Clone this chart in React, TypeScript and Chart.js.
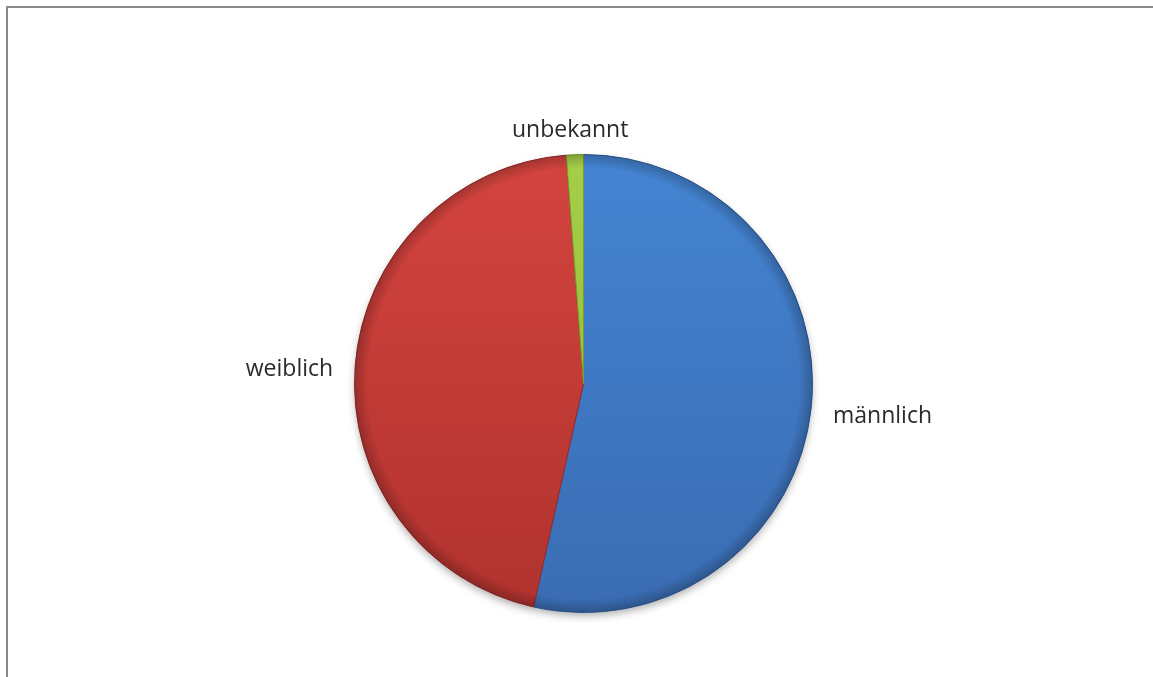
import React, { useEffect, useRef } from "react";
import { Chart, registerables } from "chart.js";

Chart.register(...registerables);

const categories = ["männlich", "weiblich", "unbekannt"];
const values = [53.5, 45.3, 1.2];
const topColors = ["#4484d2", "#d4443f", "#a6cf48"];
const bottomColors = ["#3a6cb2", "#b0322e", "#8ab236"];
const edgeColors = ["#2f5c99", "#942a27", "#789e2c"];

const labelPlugin = {
  id: "outsideLabels",
  afterDatasetsDraw(chart: any) {
    const ctx = chart.ctx;
    const meta = chart.getDatasetMeta(0);
    const first = meta.data[0];
    if (first) {
      const p0 = first.getProps(["x", "y", "outerRadius"], true);
      // bevel shading along the rim
      ctx.save();
      const g = ctx.createRadialGradient(p0.x, p0.y, p0.outerRadius * 0.94, p0.x, p0.y, p0.outerRadius);
      g.addColorStop(0, "rgba(0,0,0,0)");
      g.addColorStop(1, "rgba(0,0,0,0.22)");
      ctx.fillStyle = g;
      ctx.beginPath();
      ctx.arc(p0.x, p0.y, p0.outerRadius, 0, Math.PI * 2);
      ctx.fill();
      ctx.restore();
    }
    ctx.save();
    ctx.font = "23px 'Open Sans', sans-serif";
    ctx.fillStyle = "#2a2a2a";
    ctx.textBaseline = "middle";
    meta.data.forEach((arc: any, i: number) => {
      const p = arc.getProps(["x", "y", "startAngle", "endAngle", "outerRadius"], true);
      const mid = (p.startAngle + p.endAngle) / 2;
      const r = p.outerRadius + 18;
      const c = Math.cos(mid);
      const ax = p.x + c * r;
      const ay = p.y + Math.sin(mid) * r;
      const up = -Math.sin(mid);
      ctx.textAlign = c > 0.3 ? "left" : c < -0.3 ? "right" : "center";
      ctx.fillText(categories[i], c > 0.3 ? ax + 4 : c < -0.3 ? ax - 4 : ax - 4, ay + 5 - up * 11);
    });
    ctx.restore();
  },
};

const framePlugin = {
  id: "frame",
  beforeDraw(chart: any) {
    const ctx = chart.ctx;
    ctx.save();
    ctx.fillStyle = "#ffffff";
    ctx.fillRect(0, 0, chart.width, chart.height);
    ctx.strokeStyle = "#888888";
    ctx.lineWidth = 2;
    ctx.beginPath();
    ctx.moveTo(7, chart.height);
    ctx.lineTo(7, 7);
    ctx.lineTo(chart.width, 7);
    ctx.stroke();
    ctx.restore();
  },
  beforeDatasetsDraw(chart: any) {
    const meta = chart.getDatasetMeta(0);
    const first = meta.data[0];
    if (!first) return;
    const p = first.getProps(["x", "y", "outerRadius"], true);
    const ctx = chart.ctx;
    ctx.save();
    ctx.shadowColor = "rgba(0,0,0,0.35)";
    ctx.shadowBlur = 8;
    ctx.shadowOffsetY = 4;
    ctx.fillStyle = "#777";
    ctx.beginPath();
    ctx.arc(p.x, p.y, p.outerRadius - 1, 0, Math.PI * 2);
    ctx.fill();
    ctx.restore();
  },
};

function makeGradient(context: any, i: number) {
  const chart = context.chart;
  const area = chart.chartArea;
  if (!area) return topColors[i];
  const g = chart.ctx.createLinearGradient(0, area.top, 0, area.bottom);
  g.addColorStop(0, topColors[i]);
  g.addColorStop(1, bottomColors[i]);
  return g;
}

export default function App() {
  const ref = useRef<HTMLCanvasElement | null>(null);
  useEffect(() => {
    if (!ref.current) return;
    const chart = new Chart(ref.current, {
      type: "pie",
      data: {
        labels: categories,
        datasets: [
          {
            data: values,
            backgroundColor: (c: any) => makeGradient(c, c.dataIndex),
            borderColor: edgeColors,
            borderWidth: 1,
          },
        ],
      },
      options: {
        animation: false,
        responsive: false,
        maintainAspectRatio: false,
        layout: { padding: { top: 154, bottom: 64, left: 354, right: 340 } },
        plugins: { legend: { display: false }, tooltip: { enabled: false } },
      },
      plugins: [framePlugin, labelPlugin],
    });
    return () => chart.destroy();
  }, []);
  return (
    <div style={{ position: "fixed", left: 0, top: 0, width: 1153, height: 677, background: "#fff" }}>
      <canvas ref={ref} width={1153} height={677} style={{ width: 1153, height: 677 }} />
    </div>
  );
}
